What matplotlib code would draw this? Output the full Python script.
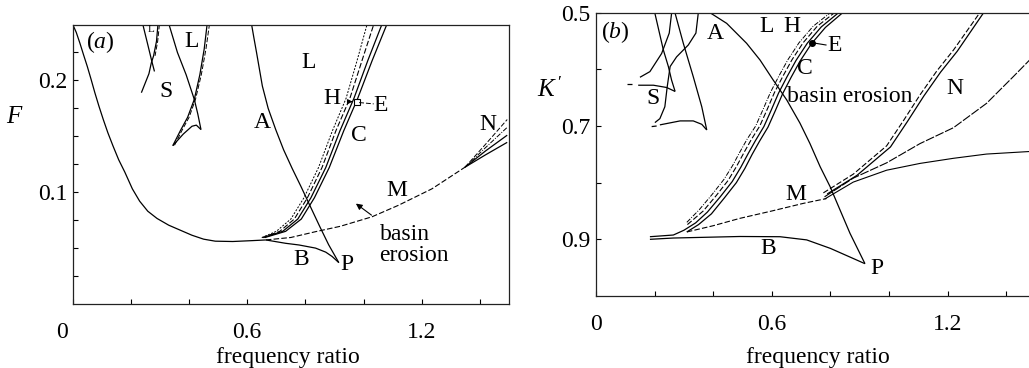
import numpy as np
import matplotlib.pyplot as plt
import matplotlib.transforms as mtransforms

plt.rcParams['font.family'] = ['Liberation Serif', 'DejaVu Serif']
plt.rcParams['mathtext.fontset'] = 'custom'
plt.rcParams['mathtext.rm'] = 'Liberation Serif'
plt.rcParams['mathtext.it'] = 'Liberation Serif:italic'

############################################
# Panel (a): F against frequency ratio
############################################
# outer boundary from top left, down and along the bottom
a_u_x = [0.0, 0.012, 0.025, 0.037, 0.050, 0.063, 0.076, 0.090, 0.105, 0.121, 0.139, 0.158, 0.179,
         0.205, 0.230, 0.258, 0.290, 0.330, 0.370, 0.410, 0.450, 0.490, 0.550, 0.618, 0.664]
a_u_y = [0.250, 0.243, 0.233, 0.223, 0.2125, 0.201, 0.189, 0.177, 0.165, 0.153, 0.141, 0.129, 0.118,
         0.103, 0.092, 0.083, 0.0765, 0.0705, 0.066, 0.0615, 0.058, 0.0562, 0.0559, 0.0567, 0.0573]
# B branch down to cusp P
a_b_x = [0.664, 0.732, 0.778, 0.835, 0.870, 0.892, 0.915]
a_b_y = [0.0573, 0.0543, 0.0528, 0.050, 0.0464, 0.0425, 0.037]
# A curve from the top down to P
a_a_x = [0.615, 0.623, 0.632, 0.642, 0.652, 0.672, 0.698, 0.725, 0.755, 0.785, 0.812, 0.850, 0.880, 0.915]
a_a_y = [0.250, 0.238, 0.225, 0.210, 0.195, 0.175, 0.156, 0.138, 0.121, 0.105, 0.090, 0.069, 0.053, 0.037]
# H / E / C family
a_f_y = [0.0594, 0.065, 0.076, 0.095, 0.122, 0.155, 0.184, 0.218, 0.25]
a_f1_x = [0.650, 0.700, 0.750, 0.795, 0.845, 0.893, 0.940, 0.978, 1.012]
a_f2_x = [0.652, 0.712, 0.762, 0.807, 0.857, 0.905, 0.953, 0.995, 1.035]
a_f3_x = [0.655, 0.722, 0.774, 0.819, 0.870, 0.919, 0.967, 1.015, 1.063]
a_f4_x = [0.660, 0.732, 0.786, 0.831, 0.882, 0.932, 0.980, 1.030, 1.080]
# M (basin erosion) line and N fan
a_m_x = [0.664, 0.750, 0.835, 0.920, 1.029, 1.120, 1.235, 1.349]
a_m_y = [0.0573, 0.0595, 0.0647, 0.0695, 0.078, 0.0883, 0.103, 0.1224]
a_n_x = [1.349, 1.420, 1.494]
a_n1_y = [0.1224, 0.143, 0.165]
a_n2_y = [0.1224, 0.140, 0.158]
a_n3_y = [0.1224, 0.137, 0.151]
a_n4_y = [0.1224, 0.1335, 0.1446]
# small S wedge near the top
a_s1_x = [0.241, 0.258, 0.272, 0.281]
a_s1_y = [0.250, 0.232, 0.217, 0.208]
a_s2_x = [0.293, 0.288, 0.278, 0.270, 0.262, 0.236]
a_s2_y = [0.250, 0.235, 0.222, 0.2155, 0.206, 0.189]
a_s3_x = [0.298, 0.292, 0.283]
a_s3_y = [0.250, 0.235, 0.222]
# L cusp
a_l1_x = [0.331, 0.360, 0.390, 0.418, 0.430, 0.441]
a_l1_y = [0.250, 0.225, 0.205, 0.183, 0.170, 0.156]
a_l2_x = [0.344, 0.370, 0.395, 0.418, 0.437, 0.452, 0.462]
a_l2_y = [0.1416, 0.155, 0.167, 0.183, 0.205, 0.228, 0.250]
a_l3_x = [0.350, 0.375, 0.400, 0.422, 0.442, 0.458, 0.470]
a_l3_y = [0.142, 0.155, 0.167, 0.183, 0.205, 0.228, 0.250]
a_l4_x = [0.344, 0.380, 0.410, 0.425, 0.441]
a_l4_y = [0.1416, 0.152, 0.159, 0.160, 0.156]

a_labels = [('L', 0.812, 0.2156), ('H', 0.892, 0.1836), ('E', 1.058, 0.178),
            ('A', 0.652, 0.1623), ('C', 0.984, 0.151), ('N', 1.429, 0.1608),
            ('M', 1.115, 0.1016), ('B', 0.784, 0.0395), ('P', 0.944, 0.035),
            ('S', 0.321, 0.190), ('L', 0.407, 0.2347)]

############################################
# Panel (b): K' against frequency ratio
############################################
b_a_x = [0.389, 0.446, 0.514, 0.560, 0.605, 0.651, 0.696, 0.730, 0.765, 0.799, 0.833, 0.867, 0.918]
b_a_y = [0.500, 0.5188, 0.554, 0.5836, 0.619, 0.654, 0.6948, 0.7307, 0.7718, 0.807, 0.8483, 0.8895, 0.943]
b_b_x = [0.184, 0.264, 0.491, 0.628, 0.719, 0.800, 0.870, 0.918]
b_b_y = [0.900, 0.8977, 0.895, 0.8954, 0.901, 0.916, 0.932, 0.943]
# H / E / C family
b_f1_x = [0.310, 0.352, 0.396, 0.437, 0.466, 0.491, 0.516, 0.545, 0.570, 0.595, 0.624, 0.655, 0.693, 0.741, 0.800]
b_f1_y = [0.870, 0.848, 0.821, 0.794, 0.770, 0.746, 0.723, 0.700, 0.671, 0.641, 0.612, 0.583, 0.553, 0.524, 0.500]
b_f2_x = [0.312, 0.366, 0.410, 0.451, 0.480, 0.505, 0.530, 0.559, 0.584, 0.609, 0.638, 0.669, 0.707, 0.755, 0.814]
b_f2_y = [0.874, 0.850, 0.823, 0.796, 0.771, 0.747, 0.724, 0.700, 0.671, 0.641, 0.612, 0.583, 0.553, 0.524, 0.500]
b_f3_x = [0.184, 0.264, 0.300, 0.340, 0.380, 0.424, 0.465, 0.494, 0.519, 0.544, 0.573, 0.598, 0.623, 0.652, 0.683, 0.721, 0.769, 0.828]
b_f3_y = [0.8954, 0.8924, 0.884, 0.871, 0.852, 0.825, 0.798, 0.773, 0.749, 0.726, 0.701, 0.672, 0.642, 0.613, 0.584, 0.554, 0.525, 0.500]
b_f4_x = [0.310, 0.350, 0.394, 0.438, 0.479, 0.508, 0.533, 0.558, 0.587, 0.612, 0.637, 0.666, 0.697, 0.735, 0.783, 0.842]
b_f4_y = [0.887, 0.874, 0.855, 0.827, 0.800, 0.775, 0.750, 0.727, 0.702, 0.673, 0.643, 0.614, 0.585, 0.555, 0.526, 0.500]
# M line and the curves to the right
b_m_x = [0.310, 0.400, 0.491, 0.600, 0.708, 0.787]
b_m_y = [0.887, 0.876, 0.863, 0.850, 0.8365, 0.828]
b_low_x = [0.780, 0.878, 0.992, 1.106, 1.220, 1.333, 1.480]
b_low_y = [0.829, 0.799, 0.778, 0.766, 0.757, 0.7495, 0.745]
b_up_x = [0.780, 0.878, 0.992, 1.106, 1.220, 1.333, 1.424, 1.480]
b_up_y = [0.825, 0.792, 0.765, 0.731, 0.703, 0.660, 0.613, 0.5835]
b_n1_x = [0.776, 0.878, 0.992, 1.050, 1.106, 1.163, 1.220, 1.310]
b_n1_y = [0.818, 0.785, 0.735, 0.690, 0.645, 0.603, 0.566, 0.500]
b_n2_x = [0.789, 0.891, 1.005, 1.063, 1.119, 1.176, 1.233, 1.323]
b_n2_y = [0.820, 0.787, 0.737, 0.692, 0.647, 0.605, 0.568, 0.500]
# S region
b_s1_x = [0.201, 0.230, 0.247, 0.258, 0.270]
b_s1_y = [0.501, 0.566, 0.595, 0.619, 0.639]
b_s2_x = [0.144, 0.196, 0.241, 0.270]
b_s2_y = [0.628, 0.628, 0.632, 0.639]
b_s3_x = [0.258, 0.250, 0.224, 0.184, 0.150]
b_s3_y = [0.501, 0.536, 0.572, 0.604, 0.614]
b_s4_x = [0.270, 0.298, 0.332, 0.361, 0.378]
b_s4_y = [0.501, 0.554, 0.613, 0.666, 0.707]
b_s5_x = [0.349, 0.341, 0.315, 0.275, 0.253, 0.243, 0.235, 0.218, 0.201]
b_s5_y = [0.501, 0.536, 0.557, 0.578, 0.595, 0.631, 0.666, 0.687, 0.694]
b_s6_x = [0.218, 0.287, 0.332, 0.361, 0.378]
b_s6_y = [0.698, 0.691, 0.691, 0.697, 0.707]
b_d1_x = [0.105, 0.122]
b_d1_y = [0.625, 0.625]
b_d2_x = [0.190, 0.207]
b_d2_y = [0.701, 0.700]

b_labels = [('A', 0.406, 0.536), ('L', 0.583, 0.525), ('H', 0.668, 0.525),
            ('E', 0.815, 0.558), ('C', 0.713, 0.598), ('S', 0.196, 0.651),
            ('N', 1.225, 0.633), ('M', 0.683, 0.8206), ('B', 0.588, 0.916),
            ('P', 0.958, 0.951)]

##############################################################################
# Plot
##############################################################################
fs = 17
lw = 0.9
dash = (0, (5, 2))
dashdot = (0, (5, 1.5, 1, 1.5))
dot = (0, (2, 1.5))

fig = plt.figure(figsize=(10.29, 3.68), dpi=100)
ax_a = fig.add_axes([0.0707, 0.1739, 0.4239, 0.7595])
ax_b = fig.add_axes([0.5792, 0.1957, 0.4271, 0.7698])

def line(ax, x, y, ls='-', w=lw):
    ax.plot(x, y, color='k', lw=w, ls=ls, solid_capstyle='butt', solid_joinstyle='round')

# ---- (a)
line(ax_a, a_u_x, a_u_y)
line(ax_a, a_b_x, a_b_y)
line(ax_a, a_a_x, a_a_y)
line(ax_a, a_f1_x, a_f_y, dot, 0.7)
line(ax_a, a_f2_x, a_f_y, dash, 0.8)
line(ax_a, a_f3_x, a_f_y)
line(ax_a, a_f4_x, a_f_y)
line(ax_a, a_m_x, a_m_y, dash, 0.8)
line(ax_a, a_n_x, a_n1_y, dash, 0.7)
line(ax_a, a_n_x, a_n2_y, dashdot, 0.7)
line(ax_a, a_n_x, a_n3_y)
line(ax_a, a_n_x, a_n4_y)
line(ax_a, a_s1_x, a_s1_y)
line(ax_a, a_s2_x, a_s2_y)
line(ax_a, a_s3_x, a_s3_y, dash, 0.7)
line(ax_a, a_l1_x, a_l1_y)
line(ax_a, a_l2_x, a_l2_y)
line(ax_a, a_l3_x, a_l3_y, dash, 0.7)
line(ax_a, a_l4_x, a_l4_y)

# E marker with leader
ax_a.plot([0.978], [0.1805], marker='s', ms=5, mfc='white', mec='k', mew=0.8)
ax_a.plot([0.985, 1.035], [0.1802, 0.179], color='k', lw=0.7, ls=dash)
ax_a.annotate('', xy=(0.972, 0.181), xytext=(0.950, 0.181),
              arrowprops=dict(arrowstyle='-|>', color='k', lw=0.8, mutation_scale=7))
# basin erosion arrow
ax_a.annotate('', xy=(0.966, 0.0913), xytext=(1.035, 0.078),
              arrowprops=dict(arrowstyle='-|>', color='k', lw=0.8, mutation_scale=9))
ax_a.text(1.055, 0.072, 'basin\nerosion', fontsize=fs, ha='left', va='top', linespacing=1.0)

for s, x, y in a_labels:
    ax_a.text(x, y, s, fontsize=fs, ha='center', va='center')
ax_a.text(0.27, 0.2455, 'L', fontsize=8, ha='center', va='center')
ax_a.text(0.093, 0.2347, r'$(a)$', fontsize=fs, ha='center', va='center')

ax_a.set_xlim(0, 1.5)
ax_a.set_ylim(0, 0.25)
ax_a.set_xticks([0, 0.6, 1.2])
ax_a.set_xticklabels(['0', '0.6', '1.2'])
ax_a.set_xticks([0.2, 0.4, 0.8, 1.0, 1.4], minor=True)
ax_a.set_yticks([0.1, 0.2])
ax_a.set_yticklabels(['0.1', '0.2'])
ax_a.set_yticks([0.025, 0.05, 0.075, 0.125, 0.15, 0.175, 0.225], minor=True)

# ---- (b)
line(ax_b, b_a_x, b_a_y)
line(ax_b, b_b_x, b_b_y)
line(ax_b, b_f1_x, b_f1_y, dashdot, 0.7)
line(ax_b, b_f2_x, b_f2_y, dash, 0.8)
line(ax_b, b_f3_x, b_f3_y)
line(ax_b, b_f4_x, b_f4_y)
line(ax_b, b_m_x, b_m_y, dash, 0.8)
line(ax_b, b_low_x, b_low_y, '-', 0.8)
line(ax_b, b_up_x, b_up_y, (0, (8, 1.5)), 0.8)
line(ax_b, b_n1_x, b_n1_y, dash, 0.8)
line(ax_b, b_n2_x, b_n2_y)
for xs, ys in [(b_s1_x, b_s1_y), (b_s2_x, b_s2_y), (b_s3_x, b_s3_y),
               (b_s4_x, b_s4_y), (b_s5_x, b_s5_y), (b_s6_x, b_s6_y),
               (b_d1_x, b_d1_y), (b_d2_x, b_d2_y)]:
    line(ax_b, xs, ys)

ax_b.plot([0.738], [0.553], marker='o', ms=4, color='k')
ax_b.plot([0.738, 0.785], [0.553, 0.557], color='k', lw=0.8)
ax_b.text(0.651, 0.648, 'basin erosion', fontsize=fs, ha='left', va='center')

for s, x, y in b_labels:
    ax_b.text(x, y, s, fontsize=fs, ha='center', va='center')
ax_b.text(0.065, 0.5335, r'$(b)$', fontsize=fs, ha='center', va='center')

ax_b.set_xlim(0, 1.5)
ax_b.set_ylim(1.0, 0.5)
ax_b.set_xticks([0, 0.6, 1.2])
ax_b.set_xticklabels(['0', '0.6', '1.2'])
ax_b.set_xticks([0.2, 0.4, 0.8, 1.0, 1.4], minor=True)
ax_b.set_yticks([0.5, 0.7, 0.9])
ax_b.set_yticklabels(['0.5', '0.7', '0.9'])
ax_b.set_yticks([0.6, 0.8], minor=True)

for ax in (ax_a, ax_b):
    for sp in ax.spines.values():
        sp.set_linewidth(0.9)
        sp.set_color('#222222')
    ax.tick_params(which='both', direction='in', length=3.5, width=0.8,
                   top=False, right=False, labelsize=fs)
    ax.tick_params(axis='x', which='both', pad=13)
    ax.tick_params(axis='y', which='both', pad=4)

# the '0' under panel (a) sits a little left of its tick
lab0 = ax_a.get_xticklabels()[0]
lab0.set_transform(lab0.get_transform() + mtransforms.ScaledTranslation(-0.11, 0, fig.dpi_scale_trans))

# axis titles
fig.text(288 / 1029, 1 - 357 / 368, 'frequency ratio', fontsize=fs, ha='center', va='center')
fig.text(818 / 1029, 1 - 358 / 368, 'frequency ratio', fontsize=fs, ha='center', va='center')
fig.text(15 / 1029, 1 - 117 / 368, r'$F$', fontsize=fs + 1, ha='center', va='center')
fig.text(550 / 1029, 1 - 90 / 368, r"$K\,'$", fontsize=fs + 1, ha='center', va='center')

fig.savefig('out.png', dpi=100)
